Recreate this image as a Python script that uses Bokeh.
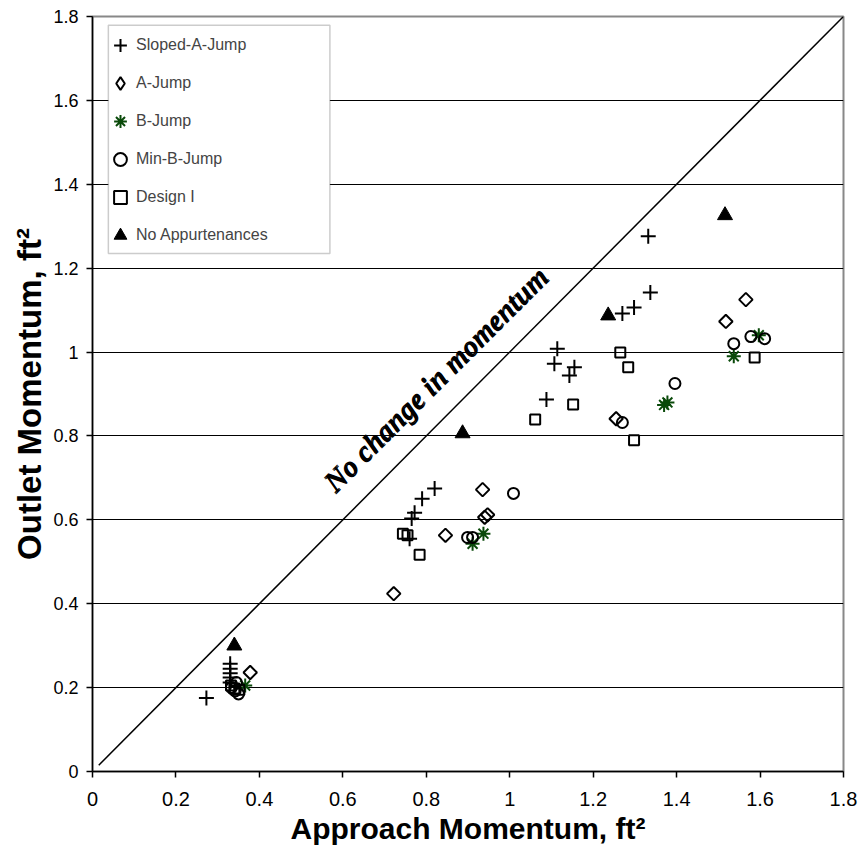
import math
from bokeh.plotting import figure
from bokeh.models import Range1d, FixedTicker, Legend, LegendItem, BoxAnnotation, Label
from bokeh.embed import file_html
from bokeh.resources import INLINE

# ---------------- data ----------------
tick_values = [0, 0.2, 0.4, 0.6, 0.8, 1.0, 1.2, 1.4, 1.6, 1.8]
tick_labels = ["0", "0.2", "0.4", "0.6", "0.8", "1", "1.2", "1.4", "1.6", "1.8"]

sloped_x = [0.273, 0.330, 0.330, 0.330, 0.330, 0.330, 0.760, 0.765, 0.772, 0.790, 0.820,
            1.088, 1.107, 1.114, 1.143, 1.155, 1.270, 1.298, 1.337, 1.332]
sloped_y = [0.175, 0.257, 0.245, 0.234, 0.224, 0.212, 0.555, 0.603, 0.617, 0.650, 0.675,
            0.887, 0.972, 1.008, 0.944, 0.964, 1.092, 1.106, 1.142, 1.276]

a_jump_x = [0.378, 0.722, 0.846, 0.935, 0.940, 0.947, 1.255, 1.518, 1.566]
a_jump_y = [0.236, 0.424, 0.563, 0.672, 0.606, 0.612, 0.841, 1.073, 1.125]

b_jump_x = [0.366, 0.911, 0.937, 1.370, 1.378, 1.537, 1.597]
b_jump_y = [0.205, 0.543, 0.567, 0.874, 0.880, 0.990, 1.040]

min_b_x = [0.333, 0.342, 0.350, 0.345, 0.899, 0.911, 1.009, 1.270, 1.396, 1.537, 1.578, 1.611]
min_b_y = [0.200, 0.192, 0.185, 0.212, 0.558, 0.558, 0.663, 0.832, 0.925, 1.020, 1.037, 1.032]

design_x = [0.332, 0.340, 0.352, 0.744, 0.755, 0.784, 1.061, 1.152, 1.265, 1.284, 1.298, 1.587]
design_y = [0.205, 0.198, 0.195, 0.567, 0.563, 0.517, 0.839, 0.875, 0.999, 0.964, 0.790, 0.987]

no_app_x = [0.340, 0.887, 1.236, 1.516]
no_app_y = [0.300, 0.806, 1.087, 1.326]

diag_x = [0.015, 1.8]
diag_y = [0.015, 1.8]

series_names = ["Sloped-A-Jump", "A-Jump", "B-Jump", "Min-B-Jump", "Design I", "No Appurtenances"]

# ---------------- figure ----------------
p = figure(width=864, height=859, x_range=Range1d(0, 1.8), y_range=Range1d(0, 1.8),
           output_backend="svg", toolbar_location=None,
           min_border_left=92, min_border_right=21, min_border_top=16, min_border_bottom=88)
p.extra_y_ranges = {"legend_only": Range1d(100, 101)}
p.background_fill_color = "white"
p.border_fill_color = "white"
p.outline_line_color = "#888888"
p.outline_line_width = 2

p.xgrid.grid_line_color = None
p.ygrid.ticker = FixedTicker(ticks=tick_values[1:-1])
p.ygrid.grid_line_color = "black"
p.ygrid.grid_line_width = 1

overrides = {v: s for v, s in zip(tick_values, tick_labels)}
for ax in (p.xaxis[0], p.yaxis[0]):
    ax.ticker = FixedTicker(ticks=tick_values)
    ax.major_label_overrides = overrides
    ax.axis_line_color = "black"
    ax.axis_line_width = 1.5
    ax.major_tick_line_color = "black"
    ax.major_tick_line_width = 1.5
    ax.major_tick_out = 6
    ax.major_tick_in = 0
    ax.minor_tick_line_color = None
    ax.axis_label_text_font = "Liberation Sans"
    ax.axis_label_text_font_style = "bold"
    ax.axis_label_text_color = "black"
    ax.major_label_text_color = "black"
    ax.major_label_text_font = "Liberation Sans"

p.xaxis.axis_label = "Approach Momentum, ft\u00b2"
p.yaxis.axis_label = "Outlet Momentum, ft\u00b2"
p.xaxis.axis_label_text_font_size = "30px"
p.yaxis.axis_label_text_font_size = "33px"
p.xaxis.major_label_text_font_size = "20px"
p.xaxis.major_label_standoff = 14
p.xaxis.axis_label_standoff = 3
p.yaxis.major_label_text_font_size = "18px"
p.yaxis.major_label_standoff = 8
p.yaxis.axis_label_standoff = 2

# identity line
p.line(diag_x, diag_y, line_color="black", line_width=1.5)

for dx, dy in ((0, 0), (1, -1)):
    p.add_layout(Label(x=0.822, y=0.936, x_offset=dx, y_offset=dy,
                       text="No change in momentum", angle=math.pi / 4,
                       text_align="center", text_baseline="middle",
                       text_font="Liberation Serif", text_font_style="bold italic",
                       text_font_size="29px", text_color="black"))

r1 = p.scatter(sloped_x, sloped_y, marker="cross", size=15, line_color="black", line_width=2)
r2 = p.scatter(a_jump_x, a_jump_y, marker="square", angle=math.pi / 4, size=9.5,
               fill_color=None, line_color="black", line_width=2)
r3 = p.scatter(b_jump_x, b_jump_y, marker="asterisk", size=14, line_color="#0a4a0a", line_width=2)
r4 = p.scatter(min_b_x, min_b_y, marker="circle", size=11, fill_color=None,
               line_color="black", line_width=2)
r5 = p.scatter(design_x, design_y, marker="square", size=10, fill_color=None,
               line_color="black", line_width=2)
r6 = p.scatter(no_app_x, no_app_y, marker="triangle", size=15, fill_color="black",
               line_color="black", line_width=1)
# legend swatch for the diamond series (legend glyphs are drawn unrotated);
# plotted on an off-screen range so only its legend swatch is visible
r2_leg = p.scatter(a_jump_x, a_jump_y, marker="diamond", size=14, fill_color=None,
                   line_color="black", line_width=2, y_range_name="legend_only")

box = BoxAnnotation(left=0.038, right=0.569, top=1.779, bottom=1.235,
                    fill_color="white", fill_alpha=1.0, line_color="#555555", line_width=1.5)
p.add_layout(box)

legend = Legend(items=[LegendItem(label=n, renderers=[r]) for n, r in
                       zip(series_names, [r1, r2_leg, r3, r4, r5, r6])],
                location=(9, 515), padding=3, spacing=2, glyph_width=32, glyph_height=36,
                label_standoff=0, label_text_font="Liberation Sans", label_text_font_size="16px",
                border_line_alpha=0, background_fill_alpha=0)
p.add_layout(legend)

open("out.html", "w").write(file_html(p, INLINE))
